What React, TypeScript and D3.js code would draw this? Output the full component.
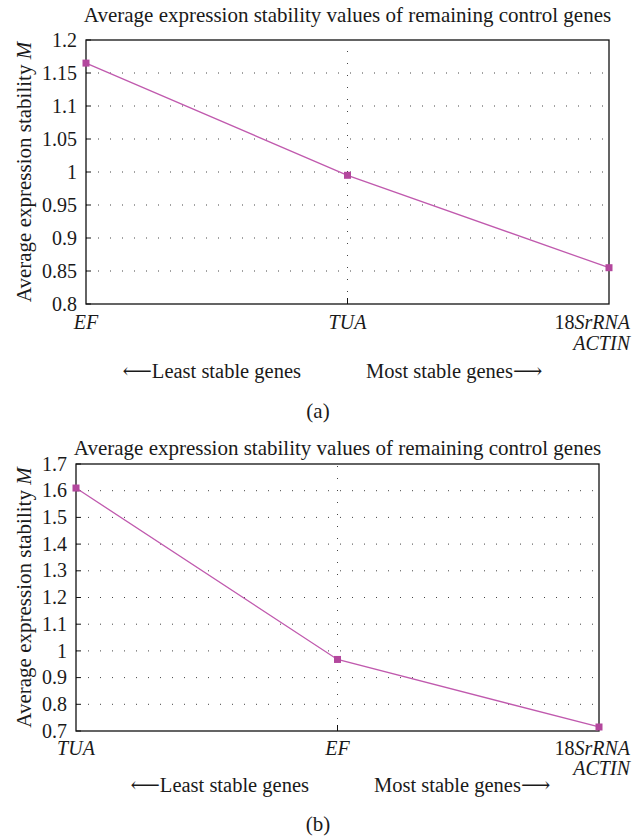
import React from "react";
import * as d3 from "d3";

// ---------- data ----------
const titleText = "Average expression stability values of remaining control genes";
const yAxisLabel = "Average expression stability";
const yAxisLabelItalic = "M";
const leastText = "\u27F5Least stable genes";
const mostText = "Most stable genes\u27F6";

const categoriesA = ["EF", "TUA", "18SrRNA|ACTIN"];
const valuesA = [1.165, 0.995, 0.855];
const yTicksA = [0.8, 0.85, 0.9, 0.95, 1, 1.05, 1.1, 1.15, 1.2];
const yTickLabelsA = ["0.8", "0.85", "0.9", "0.95", "1", "1.05", "1.1", "1.15", "1.2"];

const categoriesB = ["TUA", "EF", "18SrRNA|ACTIN"];
const valuesB = [1.61, 0.968, 0.715];
const yTicksB = [0.7, 0.8, 0.9, 1, 1.1, 1.2, 1.3, 1.4, 1.5, 1.6, 1.7];
const yTickLabelsB = ["0.7", "0.8", "0.9", "1", "1.1", "1.2", "1.3", "1.4", "1.5", "1.6", "1.7"];

// ---------- style ----------
const W = 641;
const H = 838;
const FONT = "'Liberation Serif', 'DejaVu Serif', serif";
const FS = 21;
const FS_TICK = 20;
const FS_ARROW = 20.5;
const TEXT_COLOR = "#1a1a1a";
const LINE_COLOR = "#c05aae";
const MARKER_COLOR = "#b3479d";
const GRID_COLOR = "#444";

type PanelProps = {
  categories: string[];
  values: number[];
  yTicks: number[];
  yTickLabels: string[];
  left: number;
  right: number;
  top: number;
  bottom: number;
  titleY: number;
  xLabelGap: number;
  xLineGap: number;
  leastEnd: number;
  mostStart: number;
  arrowY: number;
  caption: string;
  captionY: number;
};

// renders a gene label: leading digits roman, rest italic
function GeneLabel({ text, x, y, anchor }: { text: string; x: number; y: number; anchor: string }) {
  const m = text.match(/^(\d*)(.*)$/);
  const num = m ? m[1] : "";
  const rest = m ? m[2] : text;
  return (
    <text x={x} y={y} textAnchor={anchor} fontFamily={FONT} fontSize={FS_TICK} fill={TEXT_COLOR}>
      {num && <tspan>{num}</tspan>}
      <tspan fontStyle="italic">{rest}</tspan>
    </text>
  );
}

function Panel(p: PanelProps) {
  const x = d3.scalePoint<string>().domain(p.categories).range([p.left, p.right]);
  const y = d3
    .scaleLinear()
    .domain([p.yTicks[0], p.yTicks[p.yTicks.length - 1]])
    .range([p.bottom, p.top]);
  const line = d3
    .line<number>()
    .x((_, i) => x(p.categories[i]) as number)
    .y((v) => y(v));
  const midCats = p.categories.slice(1, -1);
  const cy = (p.top + p.bottom) / 2;
  const cx = (p.left + p.right) / 2;
  const ms = 7;

  return (
    <g>
      {/* title */}
      <text x={cx} y={p.titleY} textAnchor="middle" fontFamily={FONT} fontSize={FS} fill={TEXT_COLOR}>
        {titleText}
      </text>

      {/* horizontal dotted grid */}
      {p.yTicks.slice(1, -1).map((t) => (
        <line
          key={"g" + t}
          x1={p.left}
          x2={p.right}
          y1={y(t)}
          y2={y(t)}
          stroke={GRID_COLOR}
          strokeWidth={1}
          strokeDasharray="1 11"
          strokeDashoffset={-12}
        />
      ))}
      {/* vertical dotted grid at middle categories */}
      {midCats.map((c) => (
        <line
          key={"v" + c}
          x1={x(c)}
          x2={x(c)}
          y1={p.bottom}
          y2={p.top}
          stroke={GRID_COLOR}
          strokeWidth={1}
          strokeDasharray="1 11"
          strokeDashoffset={-12}
        />
      ))}
      {/* tick marks */}
      {midCats.map((c) => (
        <line key={"t" + c} x1={x(c)} x2={x(c)} y1={p.bottom} y2={p.bottom - 6} stroke="#111" strokeWidth={1} />
      ))}
      {p.yTicks.map((t) => (
        <line key={"yt" + t} x1={p.left} x2={p.left + 5} y1={y(t)} y2={y(t)} stroke="#111" strokeWidth={1} />
      ))}

      {/* frame */}
      <rect
        x={p.left}
        y={p.top}
        width={p.right - p.left}
        height={p.bottom - p.top}
        fill="none"
        stroke="#111"
        strokeWidth={1.3}
      />

      {/* y tick labels */}
      {p.yTicks.map((t, i) => (
        <text
          key={"yl" + t}
          x={p.left - 9}
          y={y(t)}
          dy="0.33em"
          textAnchor="end"
          fontFamily={FONT}
          fontSize={FS_TICK}
          fill={TEXT_COLOR}
        >
          {p.yTickLabels[i]}
        </text>
      ))}

      {/* y axis label */}
      <text
        transform={`translate(31,${cy}) rotate(-90)`}
        textAnchor="middle"
        fontFamily={FONT}
        fontSize={FS}
        fill={TEXT_COLOR}
      >
        {yAxisLabel} <tspan fontStyle="italic">{yAxisLabelItalic}</tspan>
      </text>

      {/* data line */}
      <path d={line(p.values) || ""} fill="none" stroke={LINE_COLOR} strokeWidth={1.3} />
      {p.values.map((v, i) => (
        <rect
          key={"m" + i}
          x={(x(p.categories[i]) as number) - ms / 2}
          y={y(v) - ms / 2}
          width={ms}
          height={ms}
          fill={MARKER_COLOR}
        />
      ))}

      {/* x labels */}
      {p.categories.map((c, i) => {
        const lines = c.split("|");
        const last = i === p.categories.length - 1;
        const xp = x(c) as number;
        return lines.map((ln, j) => (
          <GeneLabel
            key={c + j}
            text={ln}
            x={last ? W - 11 : xp}
            y={p.bottom + p.xLabelGap + j * p.xLineGap}
            anchor={last ? "end" : "middle"}
          />
        ));
      })}

      {/* arrows */}
      <text x={p.leastEnd} y={p.arrowY} textAnchor="end" fontFamily={FONT} fontSize={FS_ARROW} fill={TEXT_COLOR}>
        {leastText}
      </text>
      <text x={p.mostStart} y={p.arrowY} textAnchor="start" fontFamily={FONT} fontSize={FS_ARROW} fill={TEXT_COLOR}>
        {mostText}
      </text>

      {/* caption */}
      <text x={318} y={p.captionY} textAnchor="middle" fontFamily={FONT} fontSize={FS} fill={TEXT_COLOR}>
        {p.caption}
      </text>
    </g>
  );
}

export default function App() {
  return (
    <svg
      width={W}
      height={H}
      viewBox={`0 0 ${W} ${H}`}
      style={{ position: "absolute", left: 0, top: 0, background: "#fff" }}
    >
      <rect width={W} height={H} fill="#fff" />
      <Panel
        categories={categoriesA}
        values={valuesA}
        yTicks={yTicksA}
        yTickLabels={yTickLabelsA}
        left={86}
        right={609}
        top={40}
        bottom={304}
        titleY={22}
        xLabelGap={25}
        xLineGap={21}
        leastEnd={301}
        mostStart={366}
        arrowY={378}
        caption="(a)"
        captionY={418}
      />
      <Panel
        categories={categoriesB}
        values={valuesB}
        yTicks={yTicksB}
        yTickLabels={yTickLabelsB}
        left={76}
        right={599}
        top={464}
        bottom={731}
        titleY={455}
        xLabelGap={24}
        xLineGap={20}
        leastEnd={309}
        mostStart={374}
        arrowY={792}
        caption="(b)"
        captionY={831}
      />
    </svg>
  );
}
